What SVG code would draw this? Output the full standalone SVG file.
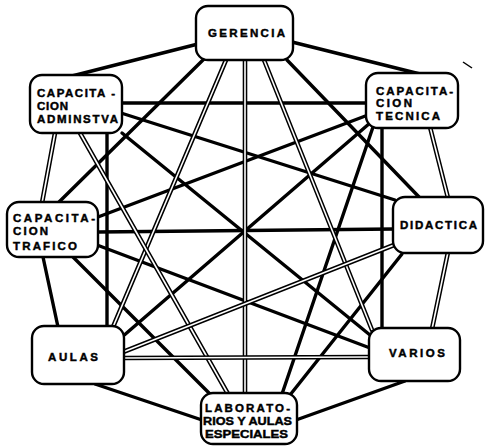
<svg xmlns="http://www.w3.org/2000/svg" width="486" height="446" viewBox="0 0 486 446">
<style>
.bg{fill:#fff}
.k{stroke:#000;stroke-width:3.4;stroke-linecap:round;fill:none}
.d{stroke:#000;stroke-width:4.6;stroke-linecap:round;fill:none}
.w{stroke:#fff;stroke-width:1.6;fill:none}
.box{fill:#fff;stroke:#000;stroke-width:2.4}
.t{font-family:"Liberation Sans",Arial,sans-serif;font-weight:bold;font-size:11.5px;fill:#000;stroke:#000;stroke-width:0.45}
</style>
<rect class="bg" x="0" y="0" width="486" height="446"/>
<g id="connectors">
<!-- thick single lines -->
<line class="k" x1="198" y1="44" x2="72" y2="76"/>
<line class="k" x1="292" y1="42" x2="420" y2="74"/>
<line class="k" x1="205" y1="58" x2="58" y2="203"/>
<line class="k" x1="287" y1="60" x2="420" y2="198"/>
<line class="k" x1="122" y1="103" x2="367" y2="103"/>
<line class="k" x1="121" y1="113" x2="395" y2="200"/>
<line class="k" x1="122" y1="133" x2="370" y2="335"/>
<line class="k" x1="107" y1="133" x2="107" y2="327"/>
<line class="k" x1="368" y1="115" x2="98" y2="217"/>
<line class="k" x1="370" y1="123" x2="122" y2="337"/>
<line class="k" x1="373" y1="127" x2="282" y2="394"/>
<line class="k" x1="382" y1="127" x2="382" y2="329"/>
<line class="k" x1="43" y1="257" x2="58" y2="327"/>
<line class="k" x1="98" y1="232" x2="394" y2="229"/>
<line class="k" x1="97" y1="245" x2="370" y2="348"/>
<line class="k" x1="73" y1="257" x2="212" y2="396"/>
<line class="k" x1="402" y1="254" x2="290" y2="395"/>
<line class="k" x1="95" y1="384" x2="202" y2="420"/>
<line class="k" x1="405" y1="381" x2="296" y2="420"/>
<!-- double (hollow) lines -->
<line class="d" x1="226" y1="60" x2="113" y2="327"/>
<line class="w" x1="226" y1="60" x2="113" y2="327"/>
<line class="d" x1="264" y1="60" x2="372" y2="330"/>
<line class="w" x1="264" y1="60" x2="372" y2="330"/>
<line class="d" x1="245" y1="58" x2="245" y2="395"/>
<line class="w" x1="245" y1="58" x2="245" y2="395"/>
<line class="d" x1="55" y1="133" x2="42" y2="203"/>
<line class="w" x1="55" y1="133" x2="42" y2="203"/>
<line class="d" x1="80" y1="133" x2="228" y2="394"/>
<line class="w" x1="80" y1="133" x2="228" y2="394"/>
<line class="d" x1="430" y1="127" x2="448" y2="198"/>
<line class="w" x1="430" y1="127" x2="448" y2="198"/>
<line class="d" x1="394" y1="245" x2="123" y2="352"/>
<line class="w" x1="394" y1="245" x2="123" y2="352"/>
<line class="d" x1="448" y1="252" x2="432" y2="329"/>
<line class="w" x1="448" y1="252" x2="432" y2="329"/>
<line class="d" x1="124" y1="358" x2="370" y2="357"/>
<line class="w" x1="124" y1="358" x2="370" y2="357"/>
</g>
<g id="gerencia">
<rect class="box" x="196" y="6" width="97" height="54" rx="12"/>
<text class="t" x="208" y="37" textLength="77" lengthAdjust="spacing">GERENCIA</text>
</g>
<g id="cap-adminstva">
<rect class="box" x="30" y="75" width="92" height="58" rx="12"/>
<text class="t" x="37" y="97" textLength="78" lengthAdjust="spacing">CAPACITA -</text>
<text class="t" x="37" y="110" textLength="31" lengthAdjust="spacing">CION</text>
<text class="t" x="37" y="123" textLength="81" lengthAdjust="spacing">ADMINSTVA</text>
</g>
<g id="cap-tecnica">
<rect class="box" x="366" y="73" width="92" height="55" rx="12"/>
<text class="t" x="376" y="95" textLength="77" lengthAdjust="spacing">CAPACITA-</text>
<text class="t" x="376" y="107" textLength="36" lengthAdjust="spacing">CION</text>
<text class="t" x="376" y="120" textLength="64" lengthAdjust="spacing">TECNICA</text>
</g>
<g id="cap-trafico">
<rect class="box" x="7" y="202" width="91" height="55" rx="12"/>
<text class="t" x="13" y="222" textLength="82" lengthAdjust="spacing">CAPACITA-</text>
<text class="t" x="13" y="235" textLength="35" lengthAdjust="spacing">CION</text>
<text class="t" x="13" y="250" textLength="64" lengthAdjust="spacing">TRAFICO</text>
</g>
<g id="didactica">
<rect class="box" x="393" y="197" width="90" height="56" rx="12"/>
<text class="t" x="400" y="229" textLength="77" lengthAdjust="spacing">DIDACTICA</text>
</g>
<g id="aulas">
<rect class="box" x="32" y="326" width="92" height="58" rx="12"/>
<text class="t" x="48" y="361" textLength="50" lengthAdjust="spacing">AULAS</text>
</g>
<g id="varios">
<rect class="box" x="369" y="328" width="91" height="53" rx="12"/>
<text class="t" x="389" y="357" textLength="56" lengthAdjust="spacing">VARIOS</text>
</g>
<g id="laboratorios">
<rect class="box" x="201" y="393" width="96" height="51" rx="12"/>
<text class="t" x="205" y="412" textLength="85" lengthAdjust="spacing">LABORATO-</text>
<text class="t" x="203" y="425" textLength="89" lengthAdjust="spacingAndGlyphs">RIOS Y AULAS</text>
<text class="t" x="205" y="438" textLength="83" lengthAdjust="spacingAndGlyphs">ESPECIALES</text>
</g>
<line x1="463" y1="62" x2="472" y2="68" stroke="#000" stroke-width="1.5"/>
</svg>
